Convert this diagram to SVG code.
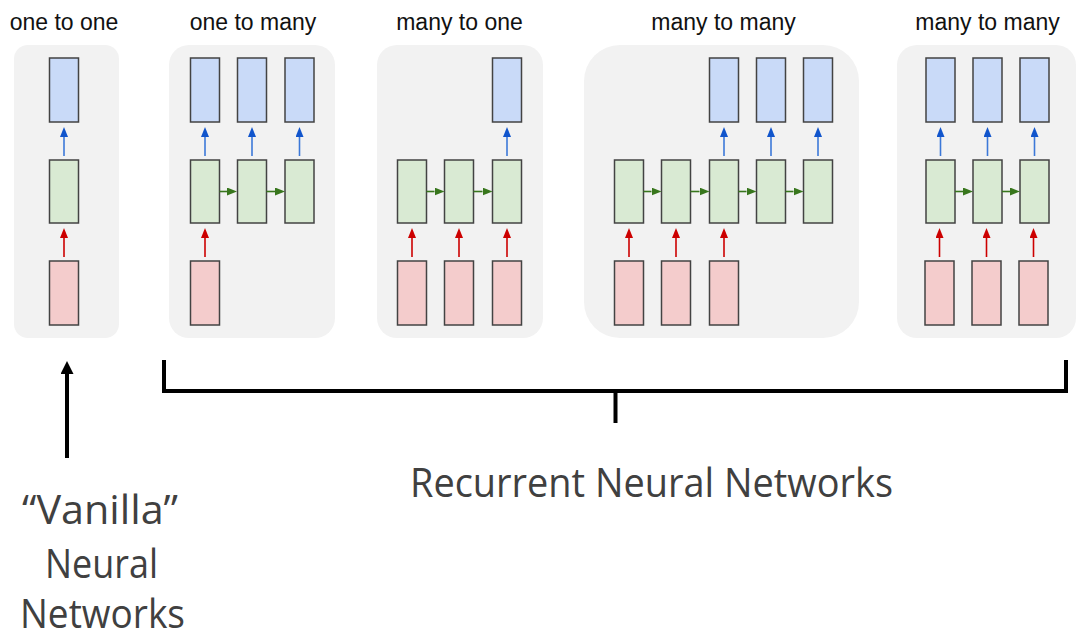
<svg xmlns="http://www.w3.org/2000/svg" width="1089" height="641" viewBox="0 0 1089 641">
<style>
.panel{fill:#f2f2f2}
.title{font-family:"Liberation Sans",Arial,sans-serif;font-size:23px;fill:#111;text-anchor:middle}
.big{font-family:"Open Sans","Liberation Sans",sans-serif;font-size:40px;fill:#404040}
.o{fill:#c9daf8;stroke:#434343;stroke-width:1.5}
.h{fill:#d9ead3;stroke:#434343;stroke-width:1.5}
.i{fill:#f4cccc;stroke:#434343;stroke-width:1.5}
.ab{stroke:#3c78d8;stroke-width:1.6;fill:none;marker-end:url(#mb)}
.ar{stroke:#cc0000;stroke-width:1.6;fill:none;marker-end:url(#mr)}
.ag{stroke:#38761d;stroke-width:1.6;fill:none;marker-end:url(#mg)}
.blk{stroke:#000;stroke-width:4;fill:none}
</style>
<defs>
<marker id="mb" markerUnits="userSpaceOnUse" viewBox="0 0 10 8" refX="0" refY="4" markerWidth="10" markerHeight="8" orient="auto"><path d="M0,0 L10,4 L0,8 Z" fill="#1155cc"/></marker>
<marker id="mr" markerUnits="userSpaceOnUse" viewBox="0 0 10 8" refX="0" refY="4" markerWidth="10" markerHeight="8" orient="auto"><path d="M0,0 L10,4 L0,8 Z" fill="#cc0000"/></marker>
<marker id="mg" markerUnits="userSpaceOnUse" viewBox="0 0 10 8" refX="0" refY="4" markerWidth="10" markerHeight="8" orient="auto"><path d="M0,0 L10,4 L0,8 Z" fill="#38761d"/></marker>
<marker id="mk" markerUnits="userSpaceOnUse" viewBox="0 0 13 13" refX="0" refY="6.5" markerWidth="13" markerHeight="13" orient="auto"><path d="M0,0 L13,6.5 L0,13 Z" fill="#000"/></marker>
</defs>

<g id="panel-one-to-one">
<rect class="panel" x="14" y="45" width="105" height="293" rx="14"/>
<text class="title" x="64" y="30">one to one</text>
<rect class="o" x="49.5" y="58" width="29" height="64"/>
<rect class="h" x="49.5" y="160" width="29" height="63"/>
<rect class="i" x="49.5" y="261" width="29" height="64"/>
</g>

<g id="panel-one-to-many">
<rect class="panel" x="169" y="45" width="166" height="293" rx="20"/>
<text class="title" x="253" y="30">one to many</text>
<rect class="o" x="190.5" y="58" width="29" height="64"/>
<rect class="o" x="237.5" y="58" width="29" height="64"/>
<rect class="o" x="285" y="58" width="29" height="64"/>
<rect class="h" x="190.5" y="160" width="29" height="63"/>
<rect class="h" x="237.5" y="160" width="29" height="63"/>
<rect class="h" x="285" y="160" width="29" height="63"/>
<rect class="i" x="190.5" y="261" width="29" height="64"/>
</g>

<g id="panel-many-to-one">
<rect class="panel" x="377" y="45" width="166" height="293" rx="20"/>
<text class="title" x="459.5" y="30">many to one</text>
<rect class="o" x="492.5" y="58" width="29" height="64"/>
<rect class="h" x="397.5" y="160" width="29" height="63"/>
<rect class="h" x="444.5" y="160" width="29" height="63"/>
<rect class="h" x="492.5" y="160" width="29" height="63"/>
<rect class="i" x="397.5" y="261" width="29" height="64"/>
<rect class="i" x="444.5" y="261" width="29" height="64"/>
<rect class="i" x="492.5" y="261" width="29" height="64"/>
</g>

<g id="panel-many-to-many-1">
<rect class="panel" x="584" y="45" width="275" height="293" rx="36"/>
<text class="title" x="723.5" y="30">many to many</text>
<rect class="o" x="709.5" y="58" width="29" height="64"/>
<rect class="o" x="756.5" y="58" width="29" height="64"/>
<rect class="o" x="803.5" y="58" width="29" height="64"/>
<rect class="h" x="614.5" y="160" width="29" height="63"/>
<rect class="h" x="661.5" y="160" width="29" height="63"/>
<rect class="h" x="709.5" y="160" width="29" height="63"/>
<rect class="h" x="756.5" y="160" width="29" height="63"/>
<rect class="h" x="803.5" y="160" width="29" height="63"/>
<rect class="i" x="614.5" y="261" width="29" height="64"/>
<rect class="i" x="661.5" y="261" width="29" height="64"/>
<rect class="i" x="709.5" y="261" width="29" height="64"/>
</g>

<g id="panel-many-to-many-2">
<rect class="panel" x="897" y="45" width="179" height="293" rx="20"/>
<text class="title" x="987.5" y="30">many to many</text>
<rect class="o" x="926" y="58" width="29" height="64"/>
<rect class="o" x="973" y="58" width="29" height="64"/>
<rect class="o" x="1020" y="58" width="29" height="64"/>
<rect class="h" x="926" y="160" width="29" height="63"/>
<rect class="h" x="973" y="160" width="29" height="63"/>
<rect class="h" x="1020" y="160" width="29" height="63"/>
<rect class="i" x="925" y="261" width="29" height="64"/>
<rect class="i" x="972" y="261" width="29" height="64"/>
<rect class="i" x="1019" y="261" width="29" height="64"/>
</g>

<g id="connectors">
<path class="ab" d="M64,156 V137"/>
<path class="ar" d="M64,257 V238"/>
<path class="ab" d="M205,156 V137"/>
<path class="ab" d="M252,156 V137"/>
<path class="ab" d="M299.5,156 V137"/>
<path class="ar" d="M205,257 V238"/>
<path class="ag" d="M219.5,191.5 H227"/>
<path class="ag" d="M266.5,191.5 H275"/>
<path class="ab" d="M507,156 V137"/>
<path class="ar" d="M412,257 V238"/>
<path class="ar" d="M459,257 V238"/>
<path class="ar" d="M507,257 V238"/>
<path class="ag" d="M426.5,191.5 H434.5"/>
<path class="ag" d="M473.5,191.5 H482.5"/>
<path class="ab" d="M724,156 V137"/>
<path class="ab" d="M771,156 V137"/>
<path class="ab" d="M818,156 V137"/>
<path class="ar" d="M629,257 V238"/>
<path class="ar" d="M676,257 V238"/>
<path class="ar" d="M724,257 V238"/>
<path class="ag" d="M643.5,191.5 H651.5"/>
<path class="ag" d="M690.5,191.5 H699.5"/>
<path class="ag" d="M738.5,191.5 H746.5"/>
<path class="ag" d="M785.5,191.5 H793.5"/>
<path class="ab" d="M940.5,156 V137"/>
<path class="ab" d="M987.5,156 V137"/>
<path class="ab" d="M1034.5,156 V137"/>
<path class="ar" d="M939.5,257 V238"/>
<path class="ar" d="M986.5,257 V238"/>
<path class="ar" d="M1033.5,257 V238"/>
<path class="ag" d="M955,191.5 H963"/>
<path class="ag" d="M1002,191.5 H1010"/>
<path class="blk" d="M67,458 V374" marker-end="url(#mk)"/>
<path class="blk" d="M164,360 V391 H1066 V360"/>
<path class="blk" d="M615.5,391 V423"/>
</g>

<g id="labels">
<text class="big" x="410" y="497" textLength="483" lengthAdjust="spacingAndGlyphs">Recurrent Neural Networks</text>
<text class="big" x="22" y="524" textLength="156" lengthAdjust="spacingAndGlyphs">“Vanilla”</text>
<text class="big" x="45" y="578" textLength="113" lengthAdjust="spacingAndGlyphs">Neural</text>
<text class="big" x="20" y="628" textLength="165" lengthAdjust="spacingAndGlyphs">Networks</text>
</g>
</svg>
